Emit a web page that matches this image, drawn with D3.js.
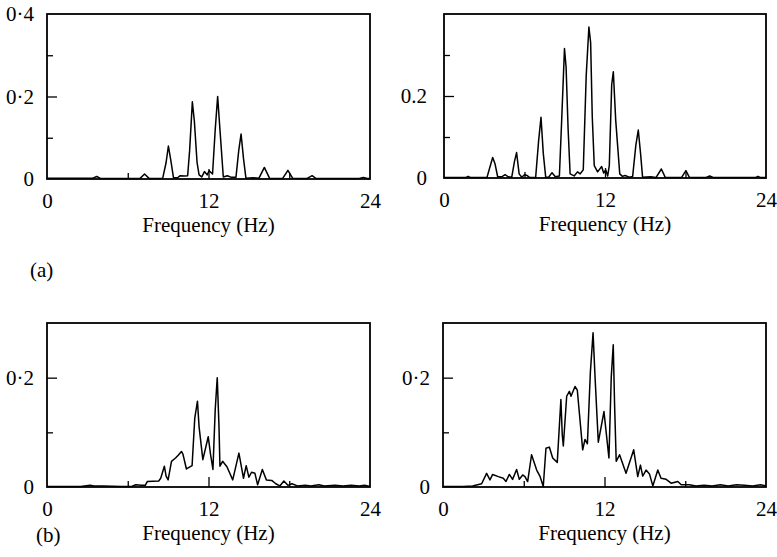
<!DOCTYPE html>
<html>
<head>
<meta charset="utf-8">
<script src="https://cdn.jsdelivr.net/npm/d3@7"></script>
<style>
  body { margin: 0; background: #fff; }
</style>
</head>
<body>
<svg id="chart" width="777" height="557"></svg>
<script>
// spectra: [frequency (Hz), amplitude]
let specA1 = [[0,0.002],[3.4,0.002],[3.7,0.006],[4.0,0.001],[6.9,0.001],[7.25,0.012],[7.6,0.001],
  [8.6,0.002],[8.85,0.04],[9.02,0.08],[9.2,0.045],[9.4,0.003],[9.7,0.003],[9.9,0.008],[10.2,0.007],
  [10.45,0.008],[10.6,0.07],[10.8,0.187],[10.95,0.14],[11.15,0.04],[11.3,0.01],[11.5,0.005],[11.7,0.018],
  [11.9,0.01],[12.05,0.02],[12.3,0.012],[12.5,0.12],[12.68,0.2],[12.85,0.12],[13.1,0.005],[13.4,0.008],
  [13.7,0.004],[14.04,0.004],[14.25,0.07],[14.42,0.109],[14.6,0.05],[14.78,0.002],[15.3,0.003],
  [15.75,0.002],[16.15,0.028],[16.55,0.001],[17.5,0.001],[17.9,0.021],[18.25,0.002],[19.3,0.001],
  [19.7,0.008],[20.0,0.001],[23.2,0.001],[23.5,0.004],[23.8,0.001],[24,0.001]];

let specA2 = [[0,0.001],[1.6,0.001],[1.8,0.004],[2.0,0.001],[3.2,0.001],[3.45,0.03],[3.63,0.05],
  [3.8,0.035],[4.0,0.003],[4.3,0.003],[4.55,0.008],[4.8,0.003],[5.05,0.002],[5.25,0.04],[5.41,0.062],
  [5.6,0.01],[5.8,0.002],[6.0,0.008],[6.2,0.006],[6.4,0.001],[6.83,0.001],[7.05,0.09],[7.23,0.148],
  [7.4,0.06],[7.58,0.002],[7.8,0.002],[8.05,0.013],[8.3,0.003],[8.6,0.005],[8.77,0.14],[8.98,0.316],
  [9.1,0.27],[9.25,0.12],[9.4,0.01],[9.7,0.005],[9.95,0.015],[10.15,0.01],[10.38,0.02],[10.6,0.25],
  [10.8,0.368],[10.93,0.33],[11.05,0.15],[11.2,0.03],[11.45,0.015],[11.75,0.028],[11.9,0.012],
  [12.05,0.02],[12.2,0.005],[12.32,0.03],[12.5,0.228],[12.62,0.259],[12.8,0.14],[13.1,0.01],
  [13.3,0.004],[13.5,0.006],[13.8,0.002],[14.06,0.004],[14.3,0.08],[14.48,0.117],[14.65,0.06],
  [14.8,0.002],[15.4,0.003],[15.8,0.001],[16.2,0.022],[16.5,0.001],[17.7,0.001],[18.03,0.018],
  [18.3,0.001],[19.5,0.001],[19.8,0.005],[20.1,0.001],[23.2,0.001],[23.4,0.004],[23.6,0.001],[24,0.001]];

let specB1 = [[0,0.001],[2.5,0.001],[3.2,0.003],[3.5,0.002],[4.2,0.002],[5.5,0.001],[6.3,0.001],
  [6.6,0.004],[7.0,0.003],[7.3,0.003],[7.45,0.01],[8.3,0.011],[8.45,0.016],[8.72,0.038],[8.85,0.02],
  [9.0,0.013],[9.25,0.047],[9.55,0.053],[9.75,0.058],[9.99,0.065],[10.1,0.06],[10.36,0.033],
  [10.78,0.039],[10.98,0.126],[11.18,0.157],[11.3,0.11],[11.58,0.05],[11.98,0.092],[12.15,0.06],
  [12.33,0.032],[12.5,0.142],[12.65,0.2],[12.78,0.11],[12.85,0.038],[13.05,0.047],[13.37,0.037],
  [13.8,0.013],[14.26,0.062],[14.6,0.016],[14.8,0.039],[15.0,0.018],[15.2,0.027],[15.45,0.025],
  [15.65,0.004],[16.0,0.032],[16.3,0.013],[16.7,0.012],[17.0,0.006],[17.3,0.002],[17.6,0.011],
  [17.9,0.003],[18.2,0.006],[18.6,0.002],[19.2,0.003],[19.6,0.002],[20.2,0.004],[20.6,0.002],
  [21.4,0.003],[22,0.002],[22.6,0.003],[23.2,0.002],[23.6,0.003],[24,0.001]];

let specB2 = [[0,0.001],[1.5,0.001],[2.2,0.002],[2.87,0.006],[3.24,0.025],[3.49,0.013],[3.69,0.023],
  [4.11,0.019],[4.48,0.016],[4.68,0.01],[4.93,0.023],[5.17,0.014],[5.47,0.032],[5.67,0.014],
  [5.92,0.022],[6.09,0.019],[6.29,0.01],[6.58,0.059],[6.96,0.031],[7.2,0.02],[7.45,0.001],
  [7.65,0.071],[7.9,0.073],[8.15,0.053],[8.49,0.045],[8.76,0.16],[8.86,0.096],[8.94,0.075],
  [9.19,0.166],[9.39,0.175],[9.51,0.166],[9.81,0.184],[9.98,0.177],[10.38,0.068],[10.55,0.087],
  [10.73,0.079],[10.95,0.21],[11.15,0.282],[11.3,0.2],[11.54,0.082],[11.96,0.138],[12.33,0.053],
  [12.5,0.2],[12.65,0.26],[12.75,0.15],[12.87,0.047],[13.12,0.059],[13.6,0.025],[14.17,0.068],
  [14.47,0.019],[14.67,0.04],[14.84,0.02],[15.09,0.031],[15.34,0.024],[15.59,0.002],[15.96,0.031],
  [16.2,0.016],[16.58,0.014],[16.95,0.007],[17.45,0.01],[17.7,0.004],[18.3,0.004],[18.8,0.002],
  [19.4,0.003],[20.0,0.002],[20.6,0.004],[21.2,0.002],[21.8,0.004],[22.4,0.003],[23.0,0.002],
  [23.6,0.004],[24,0.002]];

let xTickLabels = [0, 12, 24];
let xMinorTicks = [6, 18];
let xMajorTicks = [12];
let xLabel = 'Frequency (Hz)';

let panels = [
  {data: specA1, left: 47, right: 370, top: 14, bottom: 179, ymax: 0.4,
   yLabels: [0, 0.2, 0.4], yMajor: [0.2], yMinor: [0.1, 0.3], dec: '·'},
  {data: specA2, left: 444, right: 766, top: 14, bottom: 178, ymax: 0.4,
   yLabels: [0, 0.2], yMajor: [0.2], yMinor: [0.1, 0.3], dec: '.'},
  {data: specB1, left: 47, right: 370, top: 323, bottom: 487, ymax: 0.3,
   yLabels: [0, 0.2], yMajor: [0.2], yMinor: [0.1], dec: '·'},
  {data: specB2, left: 443, right: 766, top: 323, bottom: 487, ymax: 0.3,
   yLabels: [0, 0.2], yMajor: [0.2], yMinor: [0.1], dec: '·'}
];

const FONT = '"Liberation Serif", "DejaVu Serif", serif';

let svg = d3.select('#chart');

function fmt(dec) {
  return function(d) { return d === 0 ? '0' : String(d).replace('.', dec); };
}

function drawPanel(p) {
  let x = d3.scaleLinear().domain([0, 24]).range([p.left, p.right]);
  let y = d3.scaleLinear().domain([0, p.ymax]).range([p.bottom, p.top]);
  let g = svg.append('g');

  // inward ticks
  g.append('g').attr('transform', 'translate(' + p.left + ',0)')
    .call(d3.axisLeft(y).tickValues(p.yMinor).tickSize(-6).tickFormat(''));
  g.append('g').attr('transform', 'translate(' + p.left + ',0)')
    .call(d3.axisLeft(y).tickValues(p.yMajor).tickSize(-10).tickFormat(''));
  g.append('g').attr('transform', 'translate(0,' + p.bottom + ')')
    .call(d3.axisBottom(x).tickValues(xMinorTicks).tickSize(-6).tickFormat(''));
  g.append('g').attr('transform', 'translate(0,' + p.bottom + ')')
    .call(d3.axisBottom(x).tickValues(xMajorTicks).tickSize(-10).tickFormat(''));

  // labels
  g.append('g').attr('transform', 'translate(' + p.left + ',0)')
    .call(d3.axisLeft(y).tickValues(p.yLabels).tickSize(0).tickPadding(p.dec === '.' ? 17 : 13)
      .tickFormat(fmt(p.dec)));
  g.append('g').attr('transform', 'translate(0,' + p.bottom + ')')
    .call(d3.axisBottom(x).tickValues(xTickLabels).tickSize(0).tickPadding(14));

  g.selectAll('.domain').remove();
  g.selectAll('g').attr('font-family', FONT).attr('font-size', 21);
  g.selectAll('.tick line').attr('stroke', '#000').attr('stroke-width', 1.3);
  g.selectAll('.tick text').attr('fill', '#000');

  g.append('text')
    .attr('x', (p.left + p.right) / 2)
    .attr('y', p.bottom + 53)
    .attr('text-anchor', 'middle')
    .attr('font-family', FONT).attr('font-size', 21)
    .text(xLabel);

  let line = d3.line()
    .x(function(d) { return x(d[0]); })
    .y(function(d) { return y(d[1]); });
  g.append('path')
    .datum(p.data)
    .attr('d', line)
    .attr('fill', 'none')
    .attr('stroke', '#000')
    .attr('stroke-width', 1.5)
    .attr('stroke-linejoin', 'round');

  g.append('rect')
    .attr('x', p.left).attr('y', p.top)
    .attr('width', p.right - p.left).attr('height', p.bottom - p.top)
    .attr('fill', 'none').attr('stroke', '#000').attr('stroke-width', 1.8);
}

panels.forEach(drawPanel);

svg.append('text').attr('x', 30).attr('y', 277)
  .attr('font-family', FONT).attr('font-size', 21).text('(a)');
svg.append('text').attr('x', 36).attr('y', 542)
  .attr('font-family', FONT).attr('font-size', 21).text('(b)');
</script>
</body>
</html>
